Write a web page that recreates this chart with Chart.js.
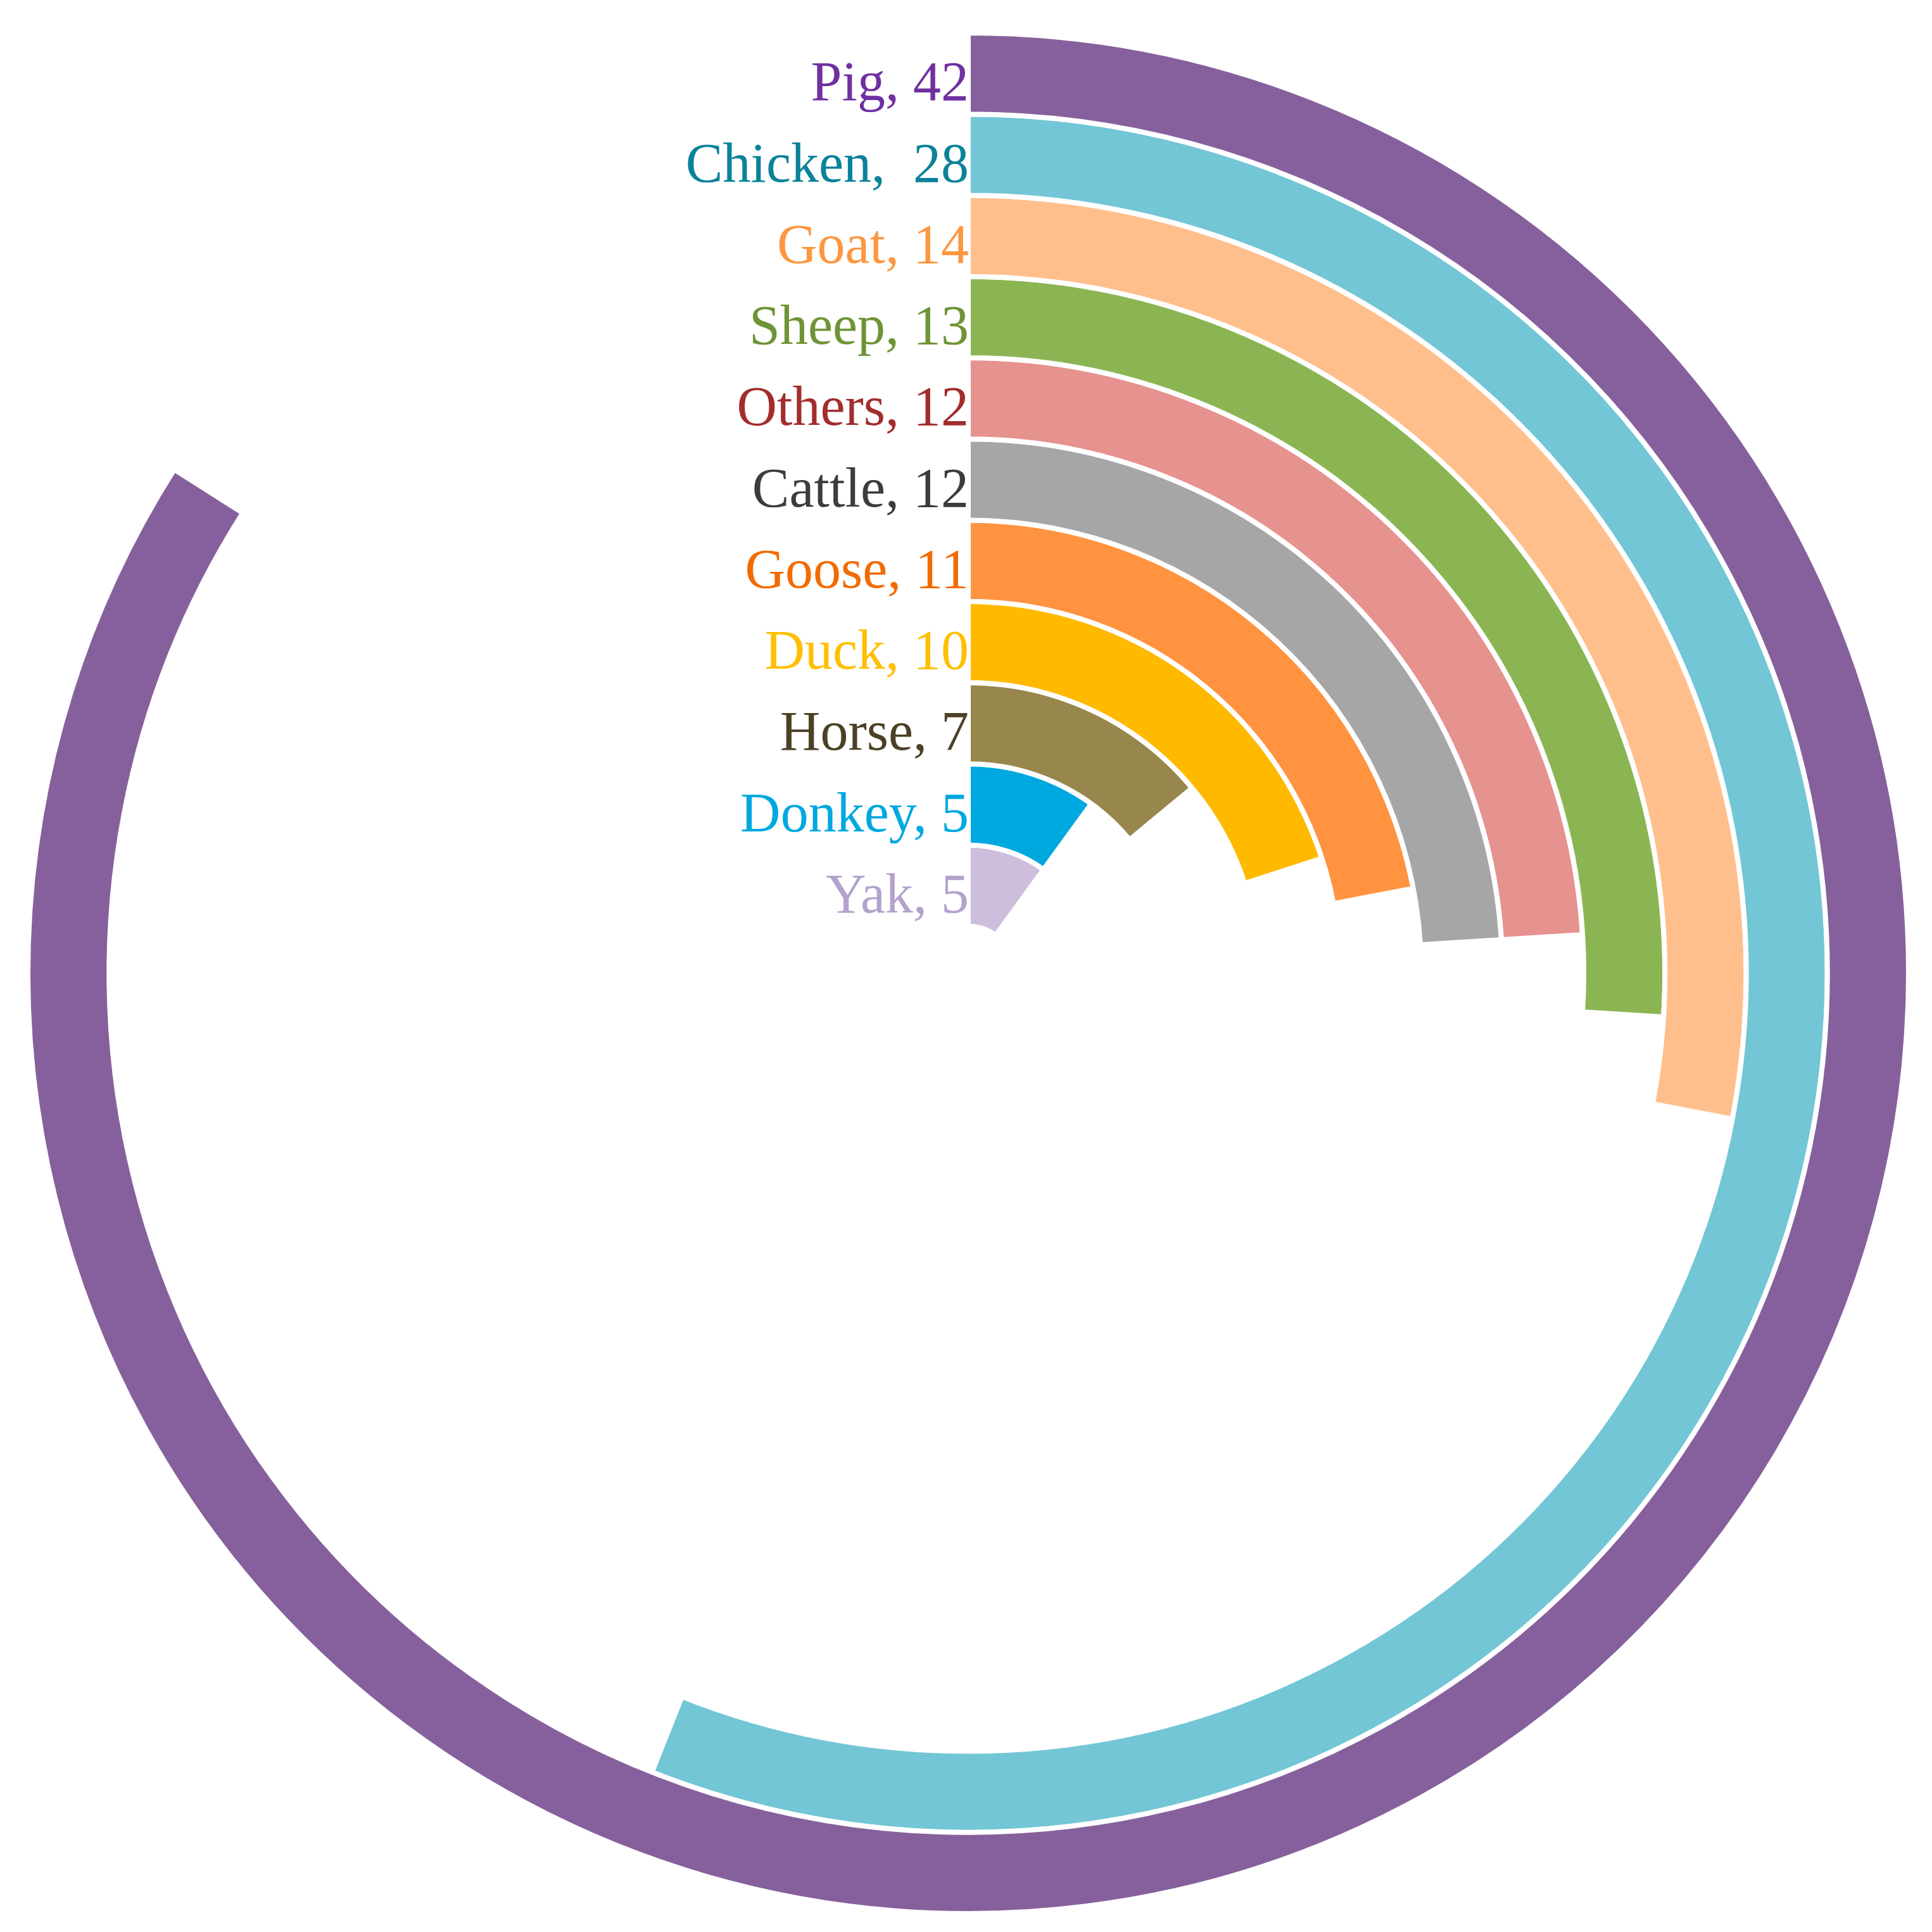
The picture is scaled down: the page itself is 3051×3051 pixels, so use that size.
<!DOCTYPE html>
<html>
<head>
<meta charset="utf-8">
<script src="https://cdn.jsdelivr.net/npm/chart.js@4.4.1/dist/chart.umd.min.js"></script>
<style>
  html, body { margin: 0; padding: 0; background: #ffffff; }
  #wrap { width: 3051px; height: 3051px; }
</style>
</head>
<body>
<div id="wrap"><canvas id="radialChart" width="3051" height="3051"></canvas></div>
<script>
// data (outer ring first)
const categories = ["Pig", "Chicken", "Goat", "Sheep", "Others", "Cattle", "Goose", "Duck", "Horse", "Donkey", "Yak"];
const values = [42, 28, 14, 13, 12, 12, 11, 10, 7, 5, 5];
const ringLabels = ["Pig, 42", "Chicken,  28", "Goat, 14", "Sheep, 13", "Others, 12", "Cattle, 12",
                    "Goose, 11", "Duck, 10", "Horse, 7", "Donkey, 5", "Yak, 5"];
const fullScale = 50; // a full circle

const ringColors = ["#86609c", "#72c6d6", "#ffbf8c", "#8bb553", "#e6928f", "#a6a6a6",
                    "#ff9340", "#ffba00", "#97874c", "#00a8e0", "#cdbfdb"];
const textColors = ["#7030a0", "#0a8299", "#fd9640", "#6e9435", "#a32d2d", "#3c3c3c",
                    "#f26b00", "#ffbf00", "#4c4125", "#00a8e0", "#b3a2cc"];

const gapWidth = 8;

// one ring per category, the rest of the circle left empty
const datasets = categories.map((cat, i) => ({
  label: cat,
  data: [values[i], fullScale - values[i]],
  backgroundColor: [ringColors[i], "rgba(0,0,0,0)"],
  borderColor: ["#ffffff", "rgba(0,0,0,0)"],
  borderWidth: [gapWidth, 0],
  hoverOffset: 0,
}));

// labels left of where each ring starts
const ringLabelPlugin = {
  id: "ringLabels",
  afterDatasetsDraw(chart) {
    const ctx = chart.ctx;
    ctx.save();
    ctx.font = "88px 'Liberation Serif', serif";
    ctx.textAlign = "right";
    ctx.textBaseline = "alphabetic";
    chart.data.datasets.forEach((ds, i) => {
      const arc = chart.getDatasetMeta(i).data[0];
      if (!arc) return;
      const inner = arc.innerRadius + gapWidth / 2;
      ctx.fillStyle = textColors[i];
      ctx.fillText(ringLabels[i], arc.x + 1, arc.y - inner - 18);
    });
    ctx.restore();
  },
};

const ctx = document.getElementById("radialChart").getContext("2d");
new Chart(ctx, {
  type: "doughnut",
  data: { labels: ["value", "rest"], datasets: datasets },
  options: {
    responsive: false,
    animation: false,
    devicePixelRatio: 1,
    radius: 1485,
    cutout: "5%",
    rotation: 0,
    circumference: 360,
    layout: { padding: { top: 23, left: 7 } },
    plugins: {
      legend: { display: false },
      tooltip: { enabled: false },
    },
    events: [],
  },
  plugins: [ringLabelPlugin],
});
</script>
</body>
</html>
